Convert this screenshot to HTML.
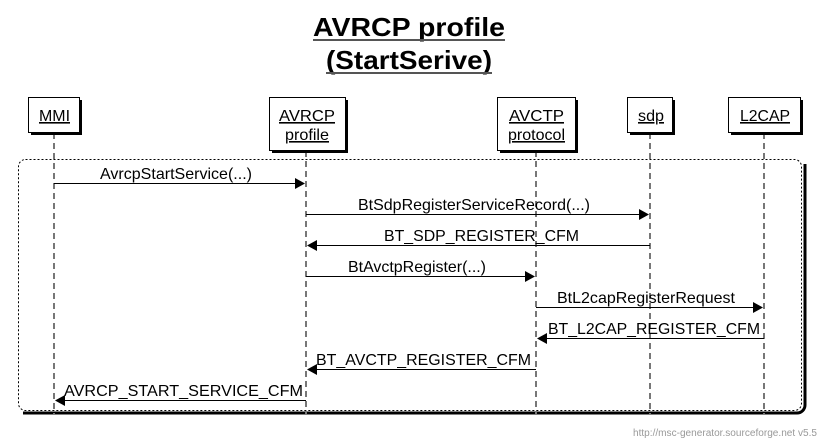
<!DOCTYPE html>
<html><head><style>html,body{margin:0;padding:0;background:#fff}svg{display:block}</style></head><body>
<svg width="819" height="440" xmlns="http://www.w3.org/2000/svg" font-family="Liberation Sans, Arial, sans-serif">
<rect width="819" height="440" fill="#fff"/>
<g font-weight="bold" font-size="26" text-anchor="middle">
<text x="409" y="36" textLength="192" lengthAdjust="spacingAndGlyphs">AVRCP profile</text>
<text x="409" y="69" textLength="166" lengthAdjust="spacingAndGlyphs">(StartSerive)</text>
</g>
<line x1="313" y1="40" x2="505" y2="40" stroke="#555" stroke-width="2"/>
<line x1="326" y1="73" x2="492" y2="73" stroke="#555" stroke-width="2"/>
<path d="M805 164 V405 a8 8 0 0 1 -8 8 H23" fill="none" stroke="#000" stroke-width="3"/>
<rect x="18.5" y="159.5" width="783" height="251" rx="7" fill="#fff" stroke="#000" stroke-dasharray="2,2"/>
<g stroke="#777" stroke-width="2" stroke-dasharray="6,4">
<line x1="54" y1="133" x2="54" y2="414"/>
<line x1="306" y1="151" x2="306" y2="414"/>
<line x1="536" y1="151" x2="536" y2="414"/>
<line x1="650" y1="133" x2="650" y2="414"/>
<line x1="764" y1="133" x2="764" y2="414"/>
</g>
<g fill="#000">
<rect x="31" y="100" width="51" height="35"/>
<rect x="272" y="100" width="76" height="53"/>
<rect x="500" y="100" width="78" height="53"/>
<rect x="630" y="100" width="45" height="35"/>
<rect x="731" y="100" width="72" height="35"/>
</g>
<g fill="#fff" stroke="#000">
<rect x="28.5" y="97.5" width="51" height="35"/>
<rect x="269.5" y="97.5" width="76" height="53"/>
<rect x="497.5" y="97.5" width="78" height="53"/>
<rect x="627.5" y="97.5" width="45" height="35"/>
<rect x="728.5" y="97.5" width="72" height="35"/>
</g>
<g font-size="16" text-anchor="middle" text-decoration="underline" fill="#000" lengthAdjust="spacingAndGlyphs">
<text x="54.5" y="121" textLength="31" lengthAdjust="spacingAndGlyphs">MMI</text>
<text x="307" y="121" textLength="56" lengthAdjust="spacingAndGlyphs">AVRCP</text><text x="307" y="140" textLength="44" lengthAdjust="spacingAndGlyphs">profile</text>
<text x="536.5" y="121" textLength="55" lengthAdjust="spacingAndGlyphs">AVCTP</text><text x="536.5" y="140" textLength="57" lengthAdjust="spacingAndGlyphs">protocol</text>
<text x="651" y="121" textLength="26" lengthAdjust="spacingAndGlyphs">sdp</text>
<text x="765" y="121" textLength="50" lengthAdjust="spacingAndGlyphs">L2CAP</text>
</g>
<g stroke="#000" stroke-width="1">
<line x1="54" y1="183.5" x2="296" y2="183.5"/>
<line x1="306" y1="214.5" x2="640" y2="214.5"/>
<line x1="316" y1="245.5" x2="650" y2="245.5"/>
<line x1="306" y1="276.5" x2="526" y2="276.5"/>
<line x1="536" y1="307.5" x2="754" y2="307.5"/>
<line x1="546" y1="338.5" x2="764" y2="338.5"/>
<line x1="316" y1="369.5" x2="536" y2="369.5"/>
<line x1="64" y1="400.5" x2="306" y2="400.5"/>
</g>
<g fill="#000">
<polygon points="305,183.5 295,178 295,189"/>
<polygon points="649,214.5 639,209 639,220"/>
<polygon points="307,245.5 317,240 317,251"/>
<polygon points="535,276.5 525,271 525,282"/>
<polygon points="763,307.5 753,302 753,313"/>
<polygon points="537,338.5 547,333 547,344"/>
<polygon points="307,369.5 317,364 317,375"/>
<polygon points="55,400.5 65,395 65,406"/>
</g>
<g font-size="16" fill="#000">
<text x="100" y="179" textLength="152" lengthAdjust="spacingAndGlyphs">AvrcpStartService(...)</text>
<text x="358" y="210" textLength="232" lengthAdjust="spacingAndGlyphs">BtSdpRegisterServiceRecord(...)</text>
<text x="384" y="241" textLength="195" lengthAdjust="spacingAndGlyphs">BT_SDP_REGISTER_CFM</text>
<text x="348" y="272" textLength="138" lengthAdjust="spacingAndGlyphs">BtAvctpRegister(...)</text>
<text x="557" y="303" textLength="178" lengthAdjust="spacingAndGlyphs">BtL2capRegisterRequest</text>
<text x="548" y="334" textLength="212" lengthAdjust="spacingAndGlyphs">BT_L2CAP_REGISTER_CFM</text>
<text x="316" y="365" textLength="215" lengthAdjust="spacingAndGlyphs">BT_AVCTP_REGISTER_CFM</text>
<text x="64" y="396" textLength="239" lengthAdjust="spacingAndGlyphs">AVRCP_START_SERVICE_CFM</text>
</g>
<text x="633" y="436" font-size="10" fill="#999" textLength="184" lengthAdjust="spacingAndGlyphs">http://msc-generator.sourceforge.net v5.5</text>
</svg>
</body></html>
